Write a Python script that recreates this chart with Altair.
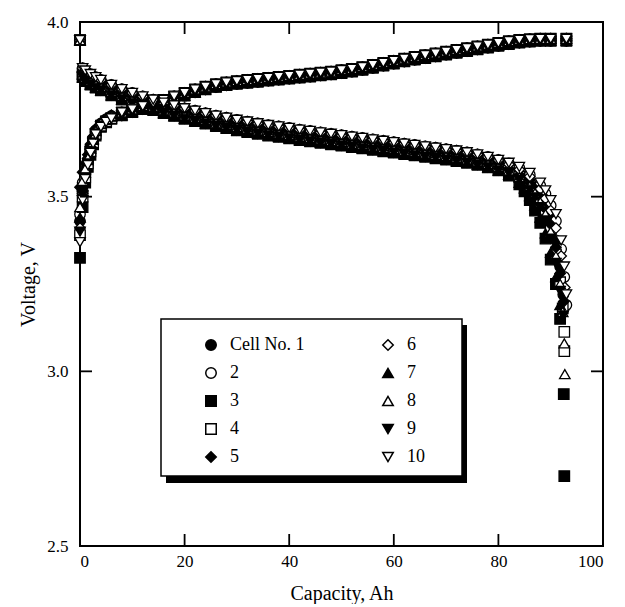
import altair as alt
import pandas as pd

# ---------------- data ----------------
CELLS = ["Cell No. 1", "2", "3", "4", "5", "6", "7", "8", "9", "10"]
SHAPES = {"Cell No. 1": "circle", "2": "circle", "3": "square", "4": "square",
          "5": "diamond", "6": "diamond", "7": "triangle-up", "8": "triangle-up",
          "9": "triangle-down", "10": "triangle-down"}
FILLS = {"Cell No. 1": "black", "2": "white", "3": "black", "4": "white",
         "5": "black", "6": "white", "7": "black", "8": "white",
         "9": "black", "10": "white"}

# charge: start of curve (per cell)
CHG_CAP_START = [0, 0.5, 1, 1.5, 2, 2.5, 3, 4, 5, 6]
CHG_START_1 = [3.43, 3.53, 3.57, 3.60, 3.635, 3.66, 3.685, 3.705, 3.718, 3.727]
CHG_START_2 = [3.45, 3.54, 3.575, 3.605, 3.64, 3.665, 3.69, 3.71, 3.722, 3.731]
CHG_START_3 = [3.325, 3.47, 3.54, 3.585, 3.62, 3.65, 3.675, 3.70, 3.713, 3.723]
CHG_START_4 = [3.39, 3.50, 3.555, 3.595, 3.63, 3.655, 3.68, 3.703, 3.716, 3.725]
CHG_START_5 = [3.527, 3.57, 3.595, 3.62, 3.65, 3.672, 3.695, 3.712, 3.724, 3.733]
CHG_START_6 = [3.41, 3.51, 3.56, 3.60, 3.635, 3.66, 3.685, 3.707, 3.72, 3.73]
CHG_START_7 = [3.44, 3.53, 3.57, 3.605, 3.638, 3.663, 3.688, 3.708, 3.72, 3.729]
CHG_START_8 = [3.47, 3.545, 3.58, 3.61, 3.642, 3.667, 3.69, 3.71, 3.722, 3.731]
CHG_START_9 = [3.40, 3.505, 3.555, 3.595, 3.63, 3.655, 3.68, 3.702, 3.715, 3.724]
CHG_START_10 = [3.37, 3.49, 3.55, 3.59, 3.625, 3.652, 3.678, 3.70, 3.714, 3.724]

# charge: rest of curve (two strands of the band)
CHG_CAP_MAIN = [8, 10, 12, 14, 16, 18, 20, 22, 24, 26, 28, 30, 32, 34, 36, 38, 40,
                42, 44, 46, 48, 50, 52, 54, 56, 58, 60, 62, 64, 66, 68, 70, 72, 74,
                76, 78, 80, 82, 84, 86, 88, 90, 93]
CHG_HI = [3.741, 3.750, 3.759, 3.768, 3.777, 3.787, 3.797, 3.807, 3.815, 3.822,
          3.827, 3.831, 3.834, 3.837, 3.840, 3.843, 3.846, 3.849, 3.852, 3.855,
          3.858, 3.862, 3.866, 3.871, 3.877, 3.883, 3.889, 3.895, 3.900, 3.905,
          3.910, 3.915, 3.920, 3.925, 3.930, 3.935, 3.940, 3.945, 3.949, 3.951,
          3.952, 3.952, 3.952]
CHG_LO = [3.733, 3.742, 3.751, 3.760, 3.769, 3.779, 3.789, 3.799, 3.807, 3.814,
          3.819, 3.823, 3.826, 3.829, 3.832, 3.835, 3.838, 3.841, 3.844, 3.847,
          3.850, 3.854, 3.858, 3.863, 3.869, 3.875, 3.881, 3.887, 3.892, 3.897,
          3.902, 3.907, 3.912, 3.917, 3.922, 3.927, 3.932, 3.937, 3.941, 3.944,
          3.946, 3.946, 3.946]

# discharge: plateau (four strands of the band)
DIS_CAP_MAIN = [0, 0.5, 1, 2, 3, 4, 6, 8, 10, 12, 14, 16, 18, 20, 22, 24, 26, 28,
                30, 32, 34, 36, 38, 40, 42, 44, 46, 48, 50, 52, 54, 56, 58, 60, 62,
                64, 66, 68, 70, 72, 74, 76, 78, 80]
DIS_HI = [3.948, 3.868, 3.861, 3.851, 3.842, 3.834, 3.820, 3.808, 3.797, 3.787,
          3.778, 3.769, 3.761, 3.753, 3.746, 3.739, 3.732, 3.726, 3.720, 3.715,
          3.710, 3.705, 3.701, 3.697, 3.692, 3.688, 3.684, 3.680, 3.676, 3.672,
          3.668, 3.664, 3.660, 3.656, 3.652, 3.648, 3.644, 3.640, 3.636, 3.632,
          3.627, 3.621, 3.614, 3.605]
DIS_MH = [3.948, 3.858, 3.851, 3.841, 3.832, 3.824, 3.810, 3.798, 3.787, 3.777,
          3.768, 3.759, 3.751, 3.743, 3.736, 3.729, 3.722, 3.716, 3.710, 3.705,
          3.700, 3.695, 3.691, 3.687, 3.682, 3.678, 3.674, 3.670, 3.666, 3.662,
          3.658, 3.654, 3.650, 3.646, 3.642, 3.638, 3.634, 3.630, 3.626, 3.622,
          3.617, 3.611, 3.604, 3.595]
DIS_ML = [3.948, 3.850, 3.841, 3.831, 3.822, 3.814, 3.800, 3.788, 3.777, 3.767,
          3.758, 3.749, 3.741, 3.733, 3.726, 3.719, 3.712, 3.706, 3.700, 3.695,
          3.690, 3.685, 3.681, 3.677, 3.672, 3.668, 3.664, 3.660, 3.656, 3.652,
          3.648, 3.644, 3.640, 3.636, 3.632, 3.628, 3.624, 3.620, 3.616, 3.612,
          3.607, 3.601, 3.594, 3.585]
DIS_LO = [3.948, 3.842, 3.831, 3.821, 3.812, 3.804, 3.790, 3.778, 3.767, 3.757,
          3.748, 3.739, 3.731, 3.723, 3.716, 3.709, 3.702, 3.696, 3.690, 3.685,
          3.680, 3.675, 3.671, 3.667, 3.662, 3.658, 3.654, 3.650, 3.646, 3.642,
          3.638, 3.634, 3.630, 3.626, 3.622, 3.618, 3.614, 3.610, 3.606, 3.602,
          3.597, 3.591, 3.584, 3.575]

# discharge: end of discharge (per cell)
KNEE_CAP_1 = [82, 84, 86, 87, 88, 89, 90, 91, 91.8, 92.4]
KNEE_V_1 = [3.582, 3.566, 3.543, 3.527, 3.505, 3.475, 3.435, 3.375, 3.30, 3.22]
KNEE_CAP_2 = [82, 84, 86, 88, 89, 90, 91, 92, 92.6, 93.0]
KNEE_V_2 = [3.595, 3.582, 3.563, 3.532, 3.508, 3.475, 3.43, 3.35, 3.27, 3.19]
KNEE_CAP_3 = [82, 84, 85, 86, 87, 88, 89, 90, 91, 91.8, 92.5, 92.6]
KNEE_V_3 = [3.560, 3.535, 3.515, 3.490, 3.460, 3.425, 3.380, 3.320, 3.250, 3.150, 2.935, 2.700]
KNEE_CAP_4 = [82, 84, 86, 87, 88, 89, 90, 91, 91.8, 92.3, 92.6, 92.6]
KNEE_V_4 = [3.575, 3.557, 3.532, 3.512, 3.487, 3.452, 3.405, 3.335, 3.255, 3.18, 3.113, 3.058]
KNEE_CAP_5 = [82, 84, 86, 87, 88, 89, 90, 91, 91.8, 92.5]
KNEE_V_5 = [3.580, 3.563, 3.540, 3.522, 3.498, 3.465, 3.420, 3.355, 3.28, 3.20]
KNEE_CAP_6 = [82, 84, 86, 88, 89, 90, 91, 92, 92.7]
KNEE_V_6 = [3.593, 3.578, 3.558, 3.522, 3.495, 3.46, 3.41, 3.33, 3.24]
KNEE_CAP_7 = [82, 84, 85, 86, 87, 88, 89, 90, 91, 91.8]
KNEE_V_7 = [3.563, 3.540, 3.524, 3.502, 3.475, 3.44, 3.395, 3.34, 3.27, 3.19]
KNEE_CAP_8 = [82, 84, 86, 87, 88, 89, 90, 91, 91.8, 92.3, 92.6, 92.7]
KNEE_V_8 = [3.575, 3.556, 3.530, 3.510, 3.484, 3.45, 3.40, 3.33, 3.25, 3.17, 3.08, 2.992]
KNEE_CAP_9 = [82, 84, 86, 87, 88, 89, 90, 91, 91.8, 92.4]
KNEE_V_9 = [3.568, 3.548, 3.520, 3.498, 3.47, 3.432, 3.38, 3.31, 3.23, 3.16]
KNEE_CAP_10 = [82, 84, 86, 88, 89, 90, 91, 92, 92.6, 93.0]
KNEE_V_10 = [3.597, 3.585, 3.568, 3.54, 3.518, 3.49, 3.45, 3.375, 3.30, 3.22]

CHG_START = [CHG_START_1, CHG_START_2, CHG_START_3, CHG_START_4, CHG_START_5,
             CHG_START_6, CHG_START_7, CHG_START_8, CHG_START_9, CHG_START_10]
CHG_MAIN = [CHG_LO, CHG_HI, CHG_LO, CHG_HI, CHG_LO, CHG_HI, CHG_LO, CHG_HI, CHG_LO, CHG_HI]
DIS_MAIN = [DIS_MH, DIS_HI, DIS_LO, DIS_ML, DIS_MH, DIS_HI, DIS_LO, DIS_ML, DIS_LO, DIS_HI]
KNEE_CAP = [KNEE_CAP_1, KNEE_CAP_2, KNEE_CAP_3, KNEE_CAP_4, KNEE_CAP_5,
            KNEE_CAP_6, KNEE_CAP_7, KNEE_CAP_8, KNEE_CAP_9, KNEE_CAP_10]
KNEE_V = [KNEE_V_1, KNEE_V_2, KNEE_V_3, KNEE_V_4, KNEE_V_5,
          KNEE_V_6, KNEE_V_7, KNEE_V_8, KNEE_V_9, KNEE_V_10]

X_TICKS = [0, 20, 40, 60, 80, 100]
Y_TICKS = [2.5, 3.0, 3.5, 4.0]
X_INNER_TICKS = [20, 40, 60, 80]
Y_INNER_TICKS = [3.0, 3.5]

rows = []
for i, cell in enumerate(CELLS):
    caps = CHG_CAP_START + CHG_CAP_MAIN + DIS_CAP_MAIN + KNEE_CAP[i]
    volts = CHG_START[i] + CHG_MAIN[i] + DIS_MAIN[i] + KNEE_V[i]
    for c, v in zip(caps, volts):
        rows.append({"cap": c, "v": v, "cell": cell})
df = pd.DataFrame(rows)
xt_df = pd.DataFrame({"cap": X_INNER_TICKS})
yt_df = pd.DataFrame({"v": Y_INNER_TICKS})

W, H = 523, 524
TICK = 12
FONT = "Liberation Serif"

xscale = alt.Scale(domain=[0, 100], nice=False)
yscale = alt.Scale(domain=[2.5, 4.0], nice=False, zero=False)
xaxis = alt.Axis(values=X_TICKS, title="Capacity, Ah", ticks=False, domain=False,
                 grid=False, labelPadding=7, titlePadding=14, format="d")
yaxis = alt.Axis(values=Y_TICKS, title="Voltage, V", ticks=False, domain=False,
                 grid=False, labelPadding=12, titlePadding=8, format=".1f")
leg = alt.Legend(orient="none", legendX=122, legendY=314, title=None, columns=2,
                 padding=0, rowPadding=10, columnPadding=74, labelOffset=10,
                 labelFont=FONT, labelFontSize=18, labelColor="black",
                 symbolStrokeWidth=1.5, symbolSize=110, gridAlign="each")

points = alt.Chart(df).mark_point(size=110, opacity=1, strokeWidth=1.3).encode(
    x=alt.X("cap:Q", scale=xscale, axis=xaxis),
    y=alt.Y("v:Q", scale=yscale, axis=yaxis),
    shape=alt.Shape("cell:N", scale=alt.Scale(domain=CELLS,
                                               range=[SHAPES[c] for c in CELLS]),
                    legend=leg),
    fill=alt.Fill("cell:N", scale=alt.Scale(domain=CELLS,
                                             range=[FILLS[c] for c in CELLS]),
                  legend=leg),
    stroke=alt.Stroke("cell:N", scale=alt.Scale(domain=CELLS,
                                                 range=["black"] * len(CELLS)),
                      legend=leg),
)

tick_style = dict(color="black", strokeWidth=1.8)
xt_bottom = alt.Chart(xt_df).mark_rule(**tick_style).encode(
    x=alt.X("cap:Q", scale=xscale, axis=xaxis), y=alt.value(H), y2=alt.value(H - TICK))
xt_top = alt.Chart(xt_df).mark_rule(**tick_style).encode(
    x=alt.X("cap:Q", scale=xscale, axis=xaxis), y=alt.value(0), y2=alt.value(TICK))
yt_left = alt.Chart(yt_df).mark_rule(**tick_style).encode(
    y=alt.Y("v:Q", scale=yscale, axis=yaxis), x=alt.value(0), x2=alt.value(TICK))
yt_right = alt.Chart(yt_df).mark_rule(**tick_style).encode(
    y=alt.Y("v:Q", scale=yscale, axis=yaxis), x=alt.value(W - TICK), x2=alt.value(W))

box_df = pd.DataFrame({"k": [0]})
shadow = alt.Chart(box_df).mark_rect(color="black").encode(
    x=alt.value(86), x2=alt.value(387), y=alt.value(303), y2=alt.value(461))
box = alt.Chart(box_df).mark_rect(fill="white", stroke="black", strokeWidth=1.5).encode(
    x=alt.value(81), x2=alt.value(382), y=alt.value(297), y2=alt.value(454))

chart = alt.layer(shadow, box, points, xt_bottom, xt_top, yt_left, yt_right).properties(
    width=W, height=H,
    background="white",
    autosize=alt.AutoSizeParams(type="none"),
    padding={"left": 72, "top": 14, "right": 10, "bottom": 58},
).configure_view(
    stroke="black", strokeWidth=2
).configure_axis(
    labelFont=FONT, labelFontSize=17, labelColor="black",
    titleFont=FONT, titleFontSize=20, titleColor="black", titleFontWeight="normal",
)

chart.save("out.html", embed_options={"renderer": "svg", "actions": False})
